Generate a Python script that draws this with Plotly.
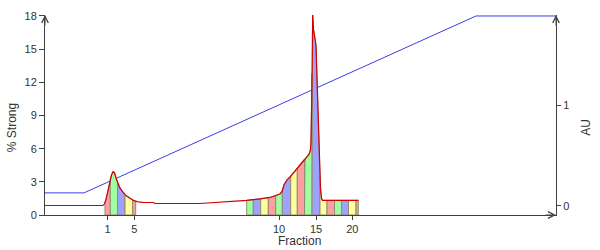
import numpy as np
import plotly.graph_objects as go

# ---- data (x in arbitrary volume units, absorbance in AU) ----
volume = [0, 5.8, 5.95, 6.1, 6.3, 6.5, 6.65, 6.8, 6.95, 7.1, 7.3, 7.5, 7.8, 8.1, 8.5, 8.9,
          9.3, 9.8, 10.8, 11.0, 15.5, 17.5, 19.0, 20.17, 21.5, 22.5, 23.5, 23.7, 23.9, 24.2,
          24.5, 25.0, 25.5, 26.0, 26.4, 26.55, 26.6, 26.67, 26.72, 26.77, 26.85, 26.93,
          27.03, 27.1, 27.2, 27.35, 27.45, 27.55, 27.65, 27.75, 31.33]
absorbance = [0.004, 0.004, 0.021, 0.065, 0.152, 0.248, 0.306, 0.339, 0.329, 0.277, 0.219,
              0.176, 0.137, 0.103, 0.075, 0.052, 0.041, 0.036, 0.034, 0.026, 0.024, 0.036,
              0.048, 0.055, 0.070, 0.084, 0.118, 0.142, 0.210, 0.258, 0.287, 0.345, 0.413,
              0.471, 0.510, 0.558, 0.635, 1.022, 1.506, 1.893, 1.748, 1.670, 1.641, 1.583,
              1.216, 0.732, 0.393, 0.174, 0.075, 0.055, 0.055]

grad_volume = [0, 3.9, 43.1, 51.1]
grad_strong = [2, 2, 18, 18]

frac_numbers = list(range(1, 22))
frac_start = [6.0, 6.53, 7.25, 8.0, 8.77, 20.17, 20.83, 21.57, 22.33, 23.07, 23.73, 24.57,
              25.23, 25.95, 26.7, 27.5, 28.2, 28.95, 29.65, 30.35, 31.1]
frac_end = [6.53, 7.25, 8.0, 8.77, 9.07, 20.83, 21.57, 22.33, 23.07, 23.73, 24.57, 25.23,
            25.95, 26.7, 27.5, 28.2, 28.95, 29.65, 30.35, 31.1, 31.33]
tick_fractions = [1, 5, 10, 15, 20]
frac_colors = ['#FFA0A0', '#A0FFA0', '#A0A0FF', '#FFFFA0']

X_RANGE = [0, 51.1]
Y_RANGE = [0, 18.088]
AU_RANGE = [-0.09, 1.8926]

AXIS = '#404040'
FONT = dict(family='Liberation Sans, Arial, sans-serif', size=12, color='#333333')
TICKFONT = dict(family='Liberation Sans, Arial, sans-serif', size=11, color='#333333')

fig = go.Figure()

# fraction fills
for i, (a, b) in enumerate(zip(frac_start, frac_end)):
    inner = [(x, y) for x, y in zip(volume, absorbance) if a < x < b]
    xs = [a, a] + [p[0] for p in inner] + [b, b, a]
    ys = ([AU_RANGE[0], float(np.interp(a, volume, absorbance))] + [p[1] for p in inner]
          + [float(np.interp(b, volume, absorbance)), AU_RANGE[0], AU_RANGE[0]])
    fig.add_trace(go.Scatter(x=xs, y=ys, mode='lines', fill='toself',
                             fillcolor=frac_colors[i % 4],
                             line=dict(color='#8C8C70', width=1),
                             yaxis='y2', hoverinfo='skip', showlegend=False))

# gradient
fig.add_trace(go.Scatter(x=grad_volume, y=grad_strong, mode='lines',
                         line=dict(color='#3C3CE6', width=1), showlegend=False))
# absorbance
fig.add_trace(go.Scatter(x=volume, y=absorbance, mode='lines', yaxis='y2',
                         line=dict(color='#D00000', width=1.2), showlegend=False))

tickvals = [(frac_start[n - 1] + frac_end[n - 1]) / 2 for n in tick_fractions]

fig.update_layout(
    width=600, height=250,
    margin=dict(l=45, r=44, t=10, b=35),
    plot_bgcolor='white', paper_bgcolor='white',
    font=FONT,
    xaxis=dict(range=X_RANGE, showgrid=False, zeroline=False, showline=True,
               linecolor=AXIS, linewidth=1, ticks='outside', ticklen=4, tickcolor=AXIS,
               tickfont=TICKFONT,
               tickvals=tickvals, ticktext=[str(n) for n in tick_fractions]),
    yaxis=dict(range=Y_RANGE, showgrid=False, zeroline=False, showline=True,
               linecolor=AXIS, linewidth=1, ticks='outside', ticklen=5, tickcolor=AXIS,
               tickfont=TICKFONT, tickvals=[0, 3, 6, 9, 12, 15, 18]),
    yaxis2=dict(range=AU_RANGE, overlaying='y', side='right', showgrid=False,
                zeroline=False, showline=True, linecolor=AXIS, linewidth=1,
                ticks='outside', ticklen=4, tickcolor=AXIS, tickfont=TICKFONT,
                tickvals=[0, 1]),
)

annotations = [
    dict(text='% Strong', x=-0.0646, y=0.439, xref='paper', yref='paper', showarrow=False,
         textangle=-90, font=FONT, xanchor='center', yanchor='middle'),
    dict(text='AU', x=1.06, y=0.439, xref='paper', yref='paper', showarrow=False,
         textangle=-90, font=FONT, xanchor='center', yanchor='middle'),
    dict(text='Fraction', x=0.499, y=-0.1317, xref='paper', yref='paper', showarrow=False,
         font=FONT, xanchor='center', yanchor='middle'),
]
# axis arrowheads
for (px, py, ax, ay) in [(0, 1, 0, 12), (1, 1, 0, 12), (1, 0, -12, 0)]:
    annotations.append(dict(x=px, y=py, xref='paper', yref='paper', ax=ax, ay=ay,
                            axref='pixel', ayref='pixel', showarrow=True, arrowhead=5,
                            arrowsize=1.3, arrowwidth=1, arrowcolor=AXIS, text=''))
fig.update_layout(annotations=annotations)

fig.write_html('out.html')
